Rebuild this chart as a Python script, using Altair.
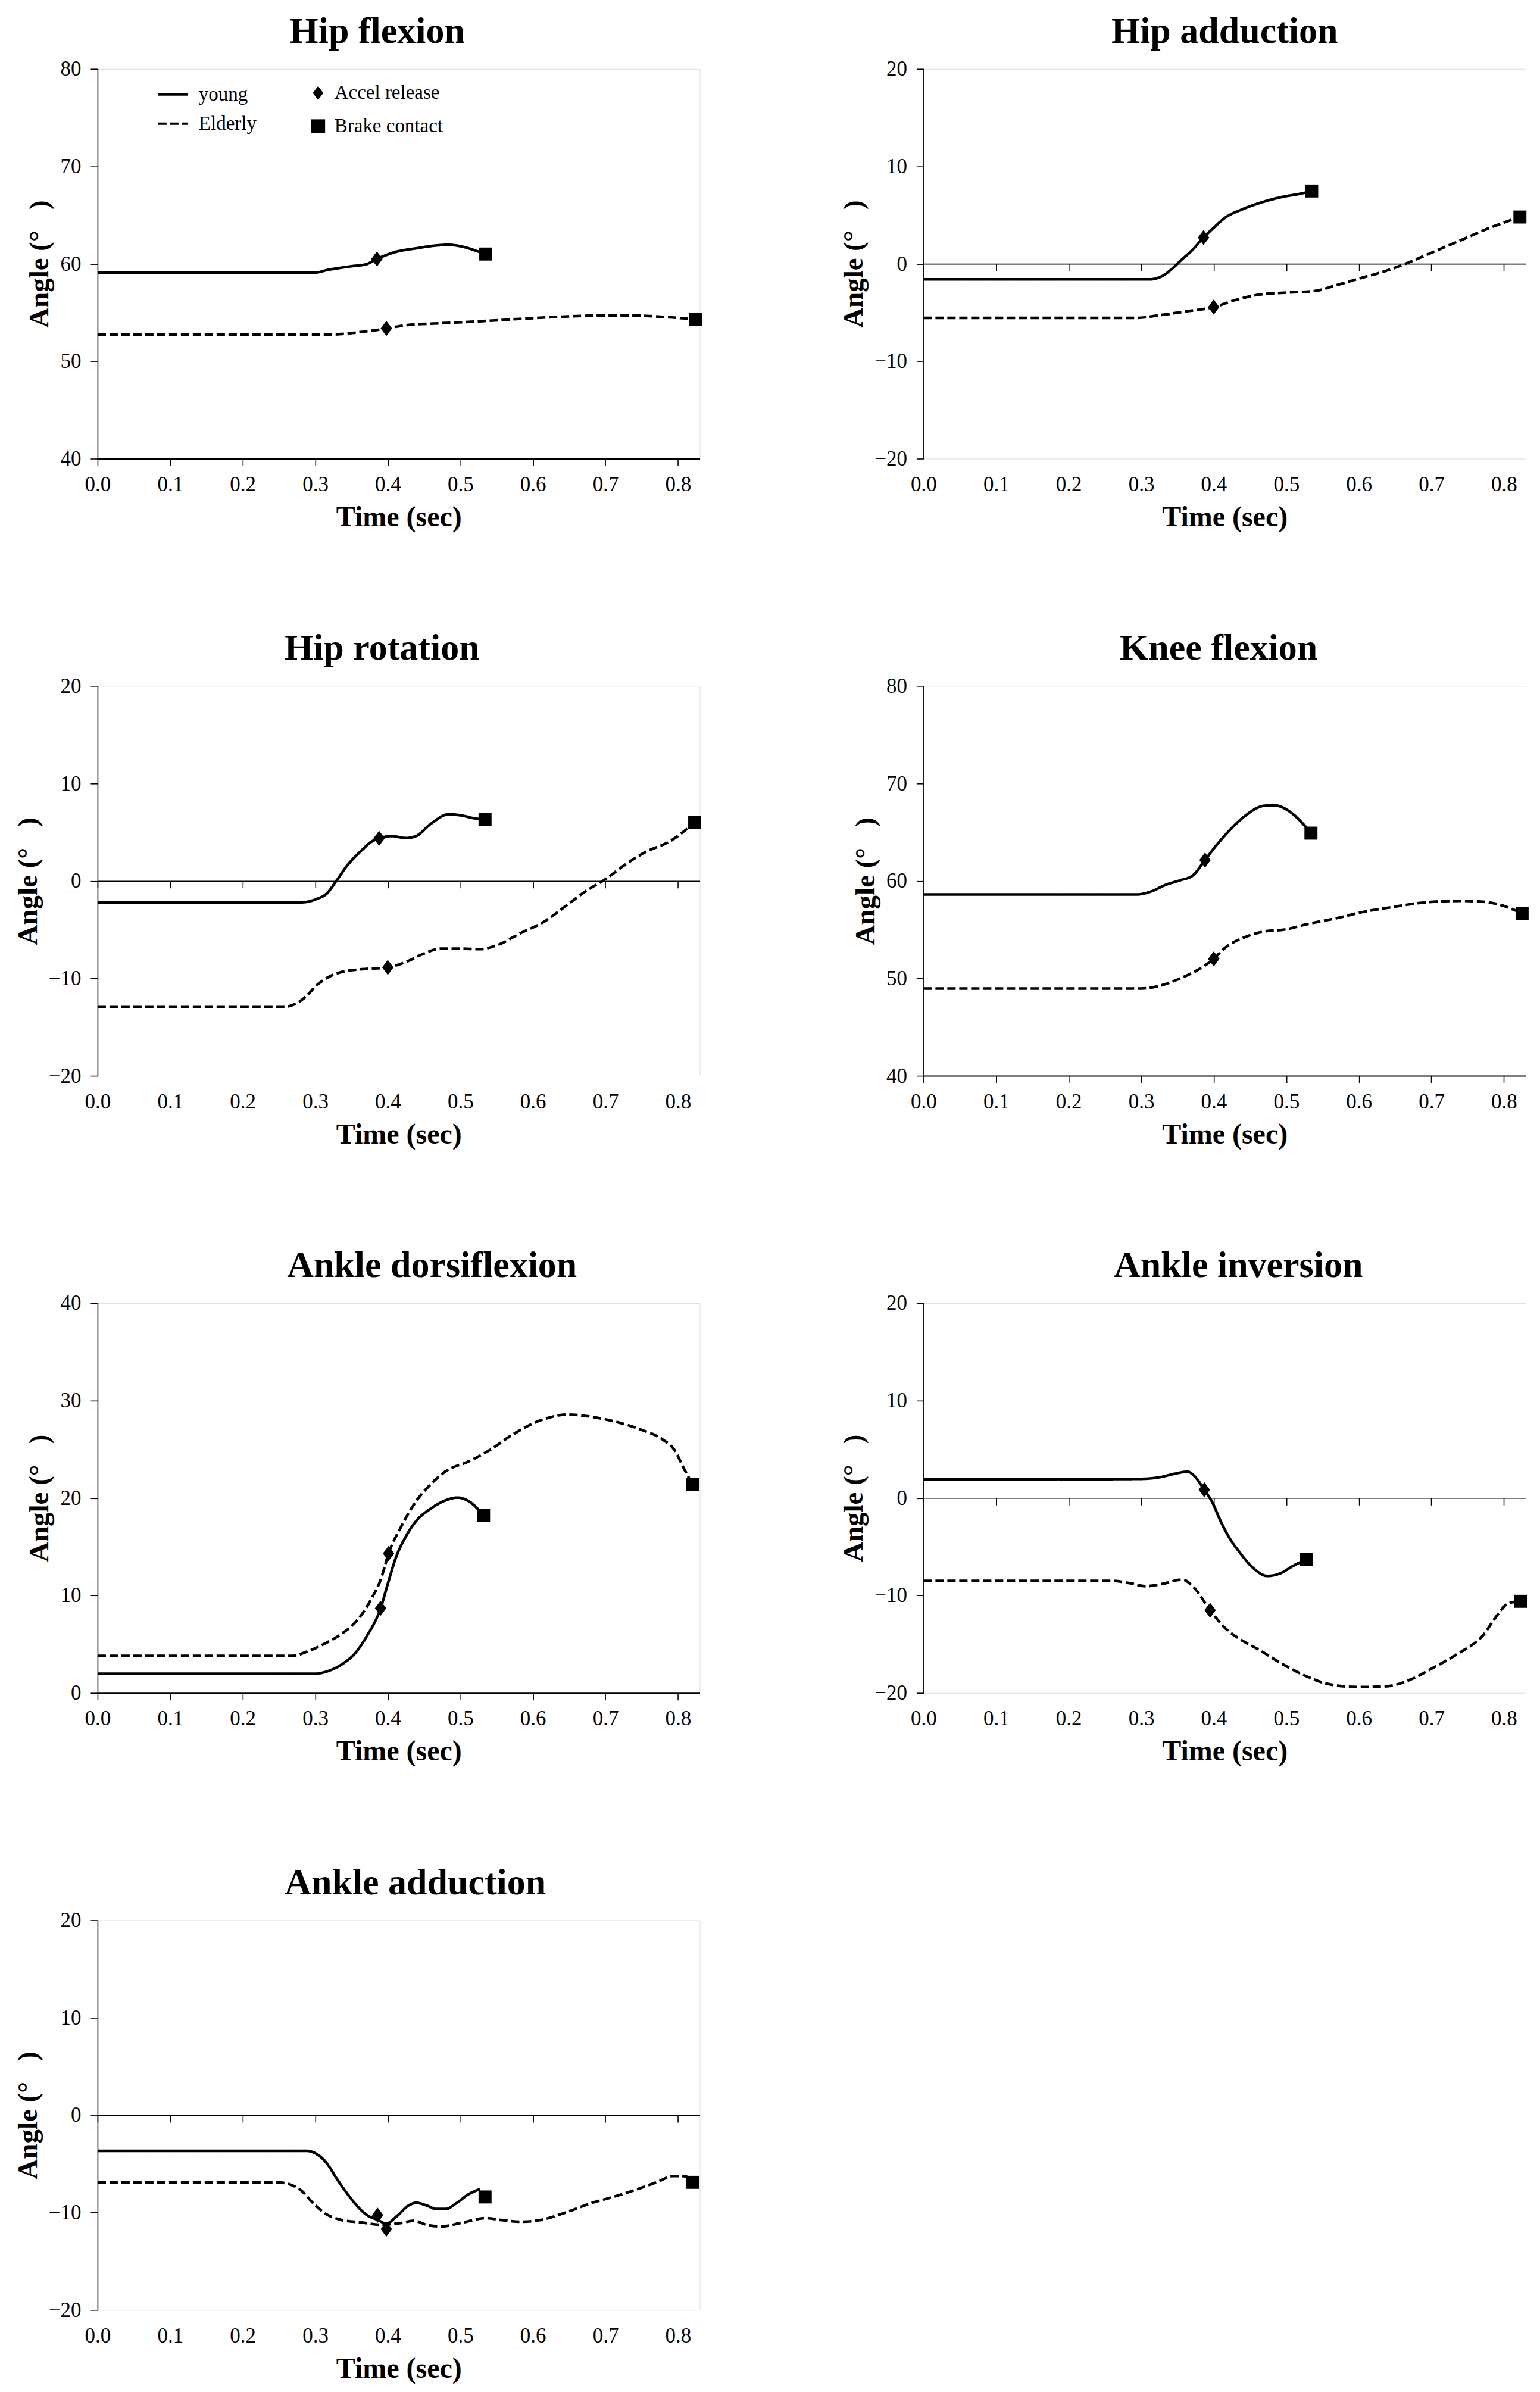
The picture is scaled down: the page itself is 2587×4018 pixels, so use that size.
import altair as alt
import pandas as pd

FONT = "Liberation Serif"
W, H = 1012, 655

TITLES = ["Hip flexion", "Hip adduction", "Hip rotation", "Knee flexion",
          "Ankle dorsiflexion", "Ankle inversion", "Ankle adduction"]
TITLE_DX = [-36, 0, -28, -10, 56, 23, 28]
Y_MIN = [40, -20, -20, 40, 0, -20, -20]
Y_MAX = [80, 20, 20, 80, 40, 20, 20]
X_TICKS = [0.0, 0.1, 0.2, 0.3, 0.4, 0.5, 0.6, 0.7, 0.8]
X_MAX = 0.83
GROUPS = ["young", "Elderly"]
EVENTS = ["Accel release", "Brake contact"]

# ---- young (solid) curves ----
YOUNG_T = [
    [0, 0.1, 0.2, 0.3, 0.316, 0.35, 0.37, 0.385, 0.41, 0.44, 0.47, 0.483, 0.506, 0.523, 0.535],
    [0, 0.1, 0.2, 0.311, 0.328, 0.342, 0.355, 0.369, 0.386, 0.4, 0.417, 0.438, 0.465, 0.493, 0.52, 0.535],
    [0, 0.1, 0.2, 0.281, 0.302, 0.316, 0.329, 0.343, 0.364, 0.377, 0.388, 0.405, 0.425, 0.439, 0.46, 0.484, 0.5, 0.521, 0.534],
    [0, 0.1, 0.2, 0.293, 0.313, 0.334, 0.354, 0.371, 0.388, 0.402, 0.422, 0.442, 0.469, 0.483, 0.503, 0.52, 0.534],
    [0, 0.1, 0.2, 0.299, 0.316, 0.337, 0.357, 0.37, 0.39, 0.401, 0.411, 0.425, 0.438, 0.459, 0.479, 0.496, 0.513, 0.532],
    [0, 0.1, 0.2, 0.299, 0.326, 0.347, 0.364, 0.374, 0.387, 0.398, 0.409, 0.422, 0.436, 0.453, 0.474, 0.491, 0.511, 0.528],
    [0, 0.1, 0.2, 0.288, 0.302, 0.316, 0.329, 0.343, 0.357, 0.37, 0.386, 0.398, 0.412, 0.429, 0.439, 0.453, 0.467, 0.48, 0.494, 0.511, 0.527],
]
YOUNG_V = [
    [59.1, 59.1, 59.1, 59.1, 59.35, 59.75, 59.95, 60.5, 61.2, 61.6, 61.9, 61.95, 61.7, 61.3, 61.0],
    [-1.6, -1.6, -1.6, -1.6, -1.3, -0.55, 0.37, 1.3, 2.7, 3.7, 4.8, 5.55, 6.28, 6.84, 7.2, 7.47],
    [-2.2, -2.2, -2.2, -2.2, -1.85, -1.29, 0.0, 1.48, 3.14, 4.0, 4.36, 4.6, 4.4, 4.6, 5.9, 6.84, 6.73, 6.4, 6.28],
    [58.6, 58.6, 58.6, 58.6, 58.9, 59.6, 60.07, 60.55, 62.14, 63.5, 65.2, 66.6, 67.7, 67.76, 67.2, 66.1, 64.9],
    [1.96, 1.96, 1.96, 1.96, 2.2, 2.95, 4.25, 5.7, 8.68, 11.45, 13.85, 16.07, 17.54, 18.9, 19.74, 20.04, 19.6, 18.2],
    [1.92, 1.92, 1.92, 1.96, 2.14, 2.5, 2.7, 2.2, 0.85, -0.44, -2.29, -4.14, -5.6, -7.09, -8.0, -7.75, -6.9, -6.28],
    [-3.67, -3.67, -3.67, -3.67, -4.0, -4.95, -6.45, -7.95, -9.26, -10.2, -10.75, -11.13, -10.4, -9.26, -9.0, -9.26, -9.63, -9.63, -9.07, -8.13, -7.6],
]

# ---- Elderly (dashed) curves ----
ELDER_T = [
    [0, 0.1, 0.2, 0.3, 0.323, 0.357, 0.384, 0.398, 0.425, 0.473, 0.527, 0.595, 0.649, 0.697, 0.73, 0.78, 0.824],
    [0, 0.1, 0.2, 0.294, 0.328, 0.362, 0.4, 0.431, 0.465, 0.5, 0.541, 0.568, 0.602, 0.637, 0.664, 0.705, 0.74, 0.774, 0.822],
    [0, 0.1, 0.2, 0.254, 0.274, 0.288, 0.302, 0.316, 0.336, 0.364, 0.4, 0.425, 0.446, 0.473, 0.5, 0.528, 0.549, 0.583, 0.618, 0.645, 0.672, 0.7, 0.727, 0.755, 0.789, 0.823],
    [0, 0.1, 0.2, 0.3, 0.327, 0.354, 0.374, 0.4, 0.415, 0.442, 0.469, 0.497, 0.531, 0.571, 0.605, 0.645, 0.693, 0.74, 0.774, 0.801, 0.825],
    [0, 0.1, 0.2, 0.269, 0.289, 0.316, 0.337, 0.357, 0.377, 0.391, 0.401, 0.418, 0.438, 0.459, 0.479, 0.513, 0.54, 0.574, 0.608, 0.649, 0.669, 0.71, 0.751, 0.778, 0.795, 0.809, 0.82],
    [0, 0.1, 0.2, 0.258, 0.285, 0.306, 0.326, 0.357, 0.374, 0.395, 0.416, 0.436, 0.463, 0.491, 0.525, 0.559, 0.6, 0.641, 0.669, 0.703, 0.737, 0.771, 0.792, 0.806, 0.823],
    [0, 0.1, 0.2, 0.247, 0.268, 0.281, 0.295, 0.316, 0.336, 0.364, 0.391, 0.419, 0.436, 0.453, 0.473, 0.501, 0.535, 0.556, 0.583, 0.611, 0.645, 0.679, 0.714, 0.748, 0.775, 0.792, 0.806, 0.82, 0.827],
]
ELDER_V = [
    [52.75, 52.75, 52.75, 52.75, 52.75, 52.95, 53.2, 53.36, 53.7, 53.9, 54.1, 54.4, 54.6, 54.7, 54.7, 54.55, 54.3],
    [-5.55, -5.55, -5.55, -5.55, -5.25, -4.88, -4.44, -3.7, -3.14, -2.96, -2.77, -2.22, -1.48, -0.74, 0.0, 1.29, 2.4, 3.5, 4.8],
    [-12.95, -12.95, -12.95, -12.95, -12.57, -11.8, -10.7, -9.96, -9.35, -9.06, -8.87, -8.32, -7.58, -6.95, -6.95, -7.0, -6.65, -5.36, -4.07, -2.59, -1.1, 0.18, 1.66, 2.96, 4.07, 6.0],
    [48.96, 48.96, 48.96, 48.96, 49.26, 50.0, 50.7, 52.0, 53.1, 54.2, 54.8, 55.0, 55.6, 56.2, 56.8, 57.3, 57.8, 57.95, 57.84, 57.4, 56.65],
    [3.8, 3.8, 3.8, 3.8, 4.25, 5.17, 6.1, 7.39, 9.6, 11.8, 14.3, 17.0, 19.56, 21.4, 22.7, 23.8, 24.9, 26.6, 27.9, 28.56, 28.45, 27.9, 26.96, 26.04, 24.93, 22.9, 21.4],
    [-8.5, -8.5, -8.5, -8.5, -8.75, -9.05, -8.86, -8.38, -9.3, -11.52, -13.37, -14.48, -15.6, -16.88, -18.2, -19.1, -19.4, -19.3, -18.7, -17.4, -15.96, -14.1, -11.9, -10.8, -10.6],
    [-6.9, -6.9, -6.9, -6.9, -7.2, -7.76, -8.88, -10.2, -10.76, -11.02, -11.25, -11.06, -10.83, -11.25, -11.43, -11.06, -10.57, -10.76, -10.95, -10.76, -10.0, -9.07, -8.32, -7.5, -6.75, -6.26, -6.26, -6.64, -7.4],
]

# ---- event markers ----
ACCEL_YOUNG_T = [0.385, 0.386, 0.388, 0.388, 0.39, 0.387, 0.386]
ACCEL_YOUNG_V = [60.5, 2.7, 4.36, 62.14, 8.68, 0.85, -10.27]
ACCEL_ELDER_T = [0.398, 0.4, 0.4, 0.4, 0.401, 0.395, 0.398]
ACCEL_ELDER_V = [53.36, -4.44, -8.87, 52.0, 14.3, -11.52, -11.7]
BRAKE_YOUNG_T = [0.535, 0.535, 0.534, 0.534, 0.532, 0.528, 0.534]
BRAKE_YOUNG_V = [61.0, 7.47, 6.28, 64.9, 18.2, -6.28, -8.4]
BRAKE_ELDER_T = [0.824, 0.822, 0.823, 0.825, 0.82, 0.823, 0.82]
BRAKE_ELDER_V = [54.3, 4.8, 6.0, 56.65, 21.4, -10.6, -6.9]

DIAMOND = "M0,-1L0.75,0L0,1L-0.75,0Z"
Y_TITLE = "Angle (°\u00a0\u00a0\u00a0)"


def panel(i):
    lines = pd.concat([
        pd.DataFrame({"t": YOUNG_T[i], "v": YOUNG_V[i], "group": "young", "order": range(len(YOUNG_T[i]))}),
        pd.DataFrame({"t": ELDER_T[i], "v": ELDER_V[i], "group": "Elderly", "order": range(len(ELDER_T[i]))}),
    ])
    accel = pd.DataFrame({"t": [ACCEL_YOUNG_T[i], ACCEL_ELDER_T[i]],
                          "v": [ACCEL_YOUNG_V[i], ACCEL_ELDER_V[i]],
                          "event": EVENTS[0]})
    brake = pd.DataFrame({"t": [BRAKE_YOUNG_T[i], BRAKE_ELDER_T[i]],
                          "v": [BRAKE_YOUNG_V[i], BRAKE_ELDER_V[i]],
                          "event": EVENTS[1]})
    y0, y1 = Y_MIN[i], Y_MAX[i]
    neg = y0 < 0
    xs = alt.Scale(domain=[0, X_MAX], nice=False, zero=False)
    ys = alt.Scale(domain=[y0, y1], nice=False, zero=False)
    show_legend = i == 0

    label_axis = alt.Axis(
        values=X_TICKS, format=".1f", orient="bottom", grid=False,
        domain=not neg, ticks=not neg, tickSize=12, tickWidth=1.6, tickColor="black",
        domainColor="black", domainWidth=2,
        labelFont=FONT, labelFontSize=35, labelColor="black", labelFlush=False,
        labelPadding=26 if neg else 14,
        title="Time (sec)", titleFont=FONT, titleFontSize=48, titleFontWeight="bold",
        titleColor="black", titlePadding=14,
    )
    y_axis = alt.Axis(
        values=list(range(y0, y1 + 1, 10)), grid=False, tickSize=12, tickWidth=1.6,
        tickColor="black", domainColor="black", domainWidth=1.6,
        labelFont=FONT, labelFontSize=35, labelColor="black", labelPadding=16,
        title=Y_TITLE, titleFont=FONT, titleFontSize=47, titleFontWeight="bold",
        titleColor="black", titlePadding=10,
    )
    zero_axis = alt.Axis(
        values=X_TICKS, orient="bottom", offset=-H / 2, grid=False, labels=False,
        title=None, domain=True, domainColor="black", domainWidth=1.6,
        ticks=True, tickSize=12, tickWidth=1.6, tickColor="black",
    )
    pts_x_axis = zero_axis if neg else label_axis

    dash_legend = alt.Legend(
        orient="none", legendX=100, legendY=16, title=None, padding=0,
        labelFont=FONT, labelFontSize=33, labelColor="black", labelOffset=16,
        labelLimit=0, symbolType="stroke", symbolSize=2500, symbolStrokeWidth=4,
        symbolStrokeColor="black", rowPadding=5,
    ) if show_legend else None
    shape_legend = alt.Legend(
        orient="none", legendX=354, legendY=24, title=None, padding=0,
        labelFont=FONT, labelFontSize=33, labelColor="black", labelOffset=11,
        labelLimit=0, symbolSize=560, symbolFillColor="black", symbolStrokeColor="black",
        symbolStrokeWidth=0, rowPadding=22,
    ) if show_legend else None
    shape_scale = alt.Scale(domain=EVENTS, range=[DIAMOND, "square"])

    line = alt.Chart(lines).mark_line(
        interpolate="monotone", color="black", strokeWidth=4.5
    ).encode(
        x=alt.X("t:Q", scale=xs, axis=label_axis),
        y=alt.Y("v:Q", scale=ys, axis=y_axis),
        order="order:Q",
        strokeDash=alt.StrokeDash(
            "group:N",
            scale=alt.Scale(domain=GROUPS, range=[[1, 0], [14, 6]]),
            legend=dash_legend,
        ),
    )
    dia = alt.Chart(accel).mark_point(
        filled=True, opacity=1, color="black", strokeWidth=0, size=650
    ).encode(
        x=alt.X("t:Q", scale=xs, axis=pts_x_axis),
        y=alt.Y("v:Q", scale=ys, axis=y_axis),
        shape=alt.Shape("event:N", scale=shape_scale, legend=shape_legend),
    )
    sq = alt.Chart(brake).mark_point(
        filled=True, opacity=1, color="black", strokeWidth=0, size=480
    ).encode(
        x=alt.X("t:Q", scale=xs, axis=pts_x_axis),
        y=alt.Y("v:Q", scale=ys, axis=y_axis),
        shape=alt.Shape("event:N", scale=shape_scale, legend=shape_legend),
    )
    if neg:
        layer = alt.layer(line, alt.layer(dia, sq)).resolve_axis(x="independent")
    else:
        layer = alt.layer(line, dia, sq)
    return layer.properties(
        width=W, height=H,
        title=alt.TitleParams(TITLES[i], font=FONT, fontSize=62, fontWeight="bold",
                              color="black", anchor="middle", offset=14, dx=TITLE_DX[i]),
    )


chart = alt.concat(
    *[panel(i) for i in range(7)], columns=2,
    spacing=alt.RowColnumber(row=163, column=228),
).resolve_scale(
    strokeDash="independent", shape="independent"
).configure_view(stroke="transparent", strokeWidth=0).configure(
    background="white", padding={"left": 14, "top": 12, "right": 10, "bottom": 10}
)

chart.save("out.html", embed_options={"renderer": "svg", "actions": False})
